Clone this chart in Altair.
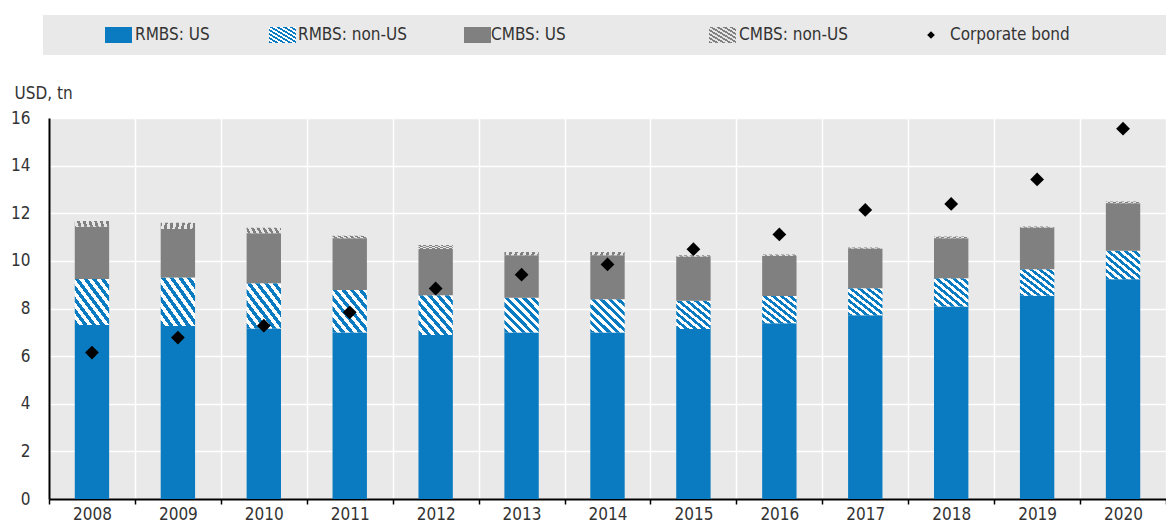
import altair as alt
import pandas as pd

years = ["2008", "2009", "2010", "2011", "2012", "2013", "2014",
         "2015", "2016", "2017", "2018", "2019", "2020"]
rmbs_us = [7.31, 7.27, 7.16, 6.99, 6.89, 6.99, 6.99, 7.14, 7.38, 7.72, 8.08, 8.54, 9.23]
rmbs_non_us = [1.93, 2.03, 1.90, 1.79, 1.67, 1.46, 1.40, 1.19, 1.14, 1.13, 1.19, 1.11, 1.19]
cmbs_us = [2.19, 2.04, 2.10, 2.17, 1.94, 1.79, 1.85, 1.85, 1.69, 1.67, 1.68, 1.75, 2.00]
cmbs_non_us = [0.24, 0.26, 0.23, 0.11, 0.17, 0.13, 0.13, 0.06, 0.06, 0.04, 0.07, 0.04, 0.07]
corporate_bond = [6.15, 6.78, 7.28, 7.84, 8.84, 9.42, 9.85, 10.49, 11.11, 12.14, 12.39, 13.42, 15.55]
series_names = ["RMBS: US", "RMBS: non-US", "CMBS: US", "CMBS: non-US"]
point_name = "Corporate bond"
y_title = "USD, tn"

FONT = "DejaVu Sans Condensed, Liberation Sans Narrow, sans-serif"
TXT = "#333333"
BLUE = "#0a7bc1"
GRAY = "#808080"
BG = "#e9e9e9"
FS = 17

W, H = 1117, 381


def hatch(c1, c2, n):
    stops = []
    for k in range(n):
        a, b, c = k / n, (k + 0.5) / n, (k + 1) / n
        stops += [alt.GradientStop(color=c1, offset=a),
                  alt.GradientStop(color=c1, offset=b),
                  alt.GradientStop(color=c2, offset=b),
                  alt.GradientStop(color=c2, offset=c)]
    return alt.LinearGradient(gradient="linear", stops=stops, x1=0, y1=1, x2=1, y2=0)


fills = [BLUE, hatch(BLUE, "#ffffff", 8), GRAY, hatch(GRAY, "#e6e6e6", 12)]
legend_fills = [BLUE, hatch(BLUE, "#ffffff", 8), GRAY, hatch(GRAY, "#e6e6e6", 8)]

rows = []
all_vals = [rmbs_us, rmbs_non_us, cmbs_us, cmbs_non_us]
for i, yr in enumerate(years):
    base = 0.0
    for name, vals in zip(series_names, all_vals):
        rows.append({"year": yr, "series": name, "y0": base, "y1": base + vals[i]})
        base += vals[i]
bars = pd.DataFrame(rows)
pts = pd.DataFrame({"year": years, "value": corporate_bond})

x_axis = alt.Axis(labelAngle=0, tickBand="extent", grid=True,
                  gridColor="white", gridWidth=1.5,
                  domainColor="black", domainWidth=2,
                  tickColor="black", tickSize=5, tickWidth=1.5,
                  labelFontSize=FS, labelColor=TXT, labelFont=FONT,
                  labelPadding=2)
x_scale = alt.Scale(paddingInner=0, paddingOuter=0)
y_scale = alt.Scale(domain=[0, 16], nice=False)
y_axis = alt.Axis(values=list(range(0, 17, 2)), title=y_title, titleAngle=0,
                  titleX=-35, titleY=-25, titleAlign="left", titleBaseline="middle",
                  titleFontSize=FS, titleFontWeight="normal", titleColor=TXT,
                  titleFont=FONT, grid=True, gridColor="white", gridWidth=1.5,
                  domainColor="black", domainWidth=2, ticks=False,
                  labelPadding=19, labelFontSize=FS, labelColor=TXT, labelFont=FONT)


def xenc():
    return alt.X("year:O", title=None, scale=x_scale, axis=x_axis)


layers = []
for idx, name in enumerate(series_names):
    layers.append(
        alt.Chart(bars).transform_filter(alt.datum.series == name)
        .mark_bar(fill=fills[idx], stroke=None, width=alt.RelativeBandSize(0.4))
        .encode(x=xenc(),
                y=alt.Y("y0:Q", scale=y_scale, axis=y_axis),
                y2="y1:Q")
    )
layers.append(
    alt.Chart(pts).mark_point(shape="diamond", filled=True, color="black",
                              size=190, opacity=1)
    .encode(x=xenc(), y=alt.Y("value:Q", scale=y_scale, axis=y_axis))
)

# legend band
legend_items = series_names + [point_name]
band = pd.DataFrame({"label": ["legend"]})
layers.append(
    alt.Chart(band).mark_rect(color=BG)
    .encode(x=alt.value(-6), x2=alt.value(W + 10), y=alt.value(-103), y2=alt.value(-63))
)
sw_x = [56, 220, 415, 660]
tx_x = [86, 249, 442, 690, 901]
for idx, name in enumerate(legend_items):
    d = pd.DataFrame({"label": [name]})
    if idx < 4:
        layers.append(
            alt.Chart(d).mark_rect(fill=legend_fills[idx])
            .encode(x=alt.value(sw_x[idx]), x2=alt.value(sw_x[idx] + 27),
                    y=alt.value(-91), y2=alt.value(-75))
        )
    else:
        layers.append(
            alt.Chart(d).mark_point(shape="diamond", filled=True, color="black",
                                    size=60, opacity=1)
            .encode(x=alt.value(882), y=alt.value(-83))
        )
    layers.append(
        alt.Chart(d).mark_text(align="left", baseline="middle", fontSize=FS,
                               font=FONT, color=TXT)
        .encode(x=alt.value(tx_x[idx]), y=alt.value(-83), text="label:N")
    )

chart = alt.layer(*layers).properties(
    width=W, height=H,
    autosize=alt.AutoSizeParams(type="none"),
    padding={"left": 41, "top": 110, "right": 0, "bottom": 26},
).configure_view(fill=BG, strokeWidth=0)

chart.save("out.html", embed_options={"renderer": "svg", "actions": False})
